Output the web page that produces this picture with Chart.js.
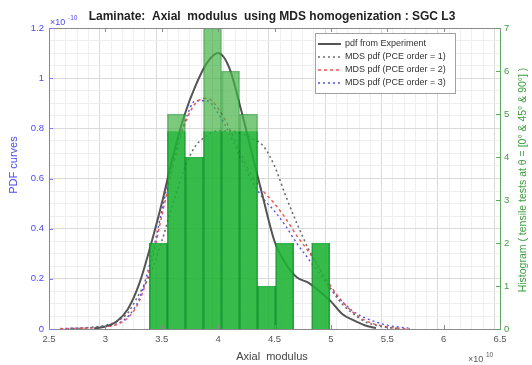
<!DOCTYPE html>
<html>
<head>
<meta charset="utf-8">
<script src="https://cdn.jsdelivr.net/npm/chart.js@4/dist/chart.umd.min.js"></script>
<style>
  html, body { margin: 0; padding: 0; background: #fff; overflow: hidden; }
  #wrap { width: 532px; height: 365px; position: relative; }
  canvas { filter: blur(0.5px); }
</style>
</head>
<body>
<div id="wrap"><canvas id="chart" width="532" height="365"></canvas></div>
<script>
// Laminate axial modulus: MDS pdf curves (left axis, x1e-10) vs tensile-test histogram (right axis)
const titleText = "Laminate:  Axial  modulus  using MDS homogenization : SGC L3";
const xTitle = "Axial  modulus";
const yTitle = "PDF curves";
const y2Title = "Histogram ( tensile tests at \u03b8 = [0\u00b0 & 45\u00b0 & 90\u00b0] )";
const legendLabels = [
  "pdf from Experiment",
  "MDS pdf (PCE order = 1)",
  "MDS pdf (PCE order = 2)",
  "MDS pdf (PCE order = 3)",
];

// curve abscissae (x 1e10)
const curveX = [2.6, 2.7, 2.8, 2.9, 3.0, 3.1, 3.2, 3.3, 3.4, 3.5, 3.6, 3.7, 3.8, 3.9, 4.0, 4.1,
  4.2, 4.3, 4.4, 4.5, 4.6, 4.7, 4.8, 4.9, 5.0, 5.1, 5.2, 5.3, 5.4, 5.5, 5.6, 5.7, 5.8];

const expPdf = [null, null, null, 0.002, 0.01, 0.03, 0.08, 0.18, 0.33, 0.50, 0.69, 0.85, 0.97, 1.06, 1.10, 1.04,
  0.88, 0.70, 0.52, 0.35, 0.26, 0.205, 0.185, 0.15, 0.11, 0.06, 0.035, 0.015, 0.004, null, null, null, null];
const pce1Pdf = [null, 0.002, 0.004, 0.008, 0.015, 0.03, 0.065, 0.14, 0.22, 0.35, 0.50, 0.64, 0.73, 0.77, 0.79, 0.79,
  0.78, 0.76, 0.73, 0.65, 0.53, 0.42, 0.32, 0.24, 0.16, 0.10, 0.06, 0.03, 0.015, 0.006, 0.002, null, null];
const pce2Pdf = [0.001, 0.002, 0.003, 0.005, 0.009, 0.018, 0.045, 0.11, 0.25, 0.45, 0.65, 0.81, 0.90, 0.92, 0.88, 0.80,
  0.70, 0.61, 0.55, 0.50, 0.44, 0.37, 0.31, 0.24, 0.17, 0.11, 0.065, 0.035, 0.018, 0.008, 0.003, 0.001, null];
const pce3Pdf = [0.002, 0.003, 0.004, 0.006, 0.01, 0.02, 0.05, 0.12, 0.27, 0.47, 0.67, 0.82, 0.91, 0.91, 0.86, 0.78,
  0.68, 0.59, 0.52, 0.47, 0.41, 0.34, 0.28, 0.22, 0.16, 0.11, 0.07, 0.045, 0.028, 0.015, 0.008, 0.003, null];

// histogram bins (centres, x 1e10) and counts
const binCenters = [3.47, 3.63, 3.79, 3.95, 4.11, 4.27, 4.43, 4.59, 4.75, 4.91];
const binCounts = [2, 5, 4, 7, 6, 5, 1, 2, 0, 2];
// darker lower band of the bars
const binDark = [2, 4.6, 4, 4.6, 4.6, 4.6, 1, 2, 0, 2];
const binWidth = 0.16;

const BLUE = "#4b4bf0";
const GREEN = "#3f9b3f";
const GRAY = "#5a5a5a";
const FONT = '"Liberation Sans", Arial, sans-serif';

const pts = (xs, ys) => xs.map((x, i) => ({ x, y: ys[i] }));
const isMult = (v, step) => Math.abs(v / step - Math.round(v / step)) < 1e-6;
// plot width is 451px for 4 units of x
const barPx = binWidth * 451 / 4;

const lineStyles = [
  { color: "#555555", width: 2, dash: [] },
  { color: "#6e6e6e", width: 1.6, dash: [2, 3] },
  { color: "#f05050", width: 1.4, dash: [3, 3] },
  { color: "#4f4ff0", width: 1.4, dash: [2, 3] },
];
const curves = [expPdf, pce1Pdf, pce2Pdf, pce3Pdf];

const datasets = [
  {
    type: "bar",
    label: "hist-dark",
    data: pts(binCenters, binDark),
    yAxisID: "y2",
    backgroundColor: "rgba(10,180,45,0.6)",
    borderColor: "rgba(20,120,40,0.55)",
    borderWidth: { left: 1, right: 1, top: 0, bottom: 0 },
    barThickness: barPx, grouped: false,
    order: 0,
  },
  {
    type: "bar",
    label: "hist",
    data: pts(binCenters, binCounts),
    yAxisID: "y2",
    backgroundColor: "rgba(70,178,70,0.7)",
    borderColor: "rgba(20,120,40,0.55)",
    borderWidth: 1,
    barThickness: barPx, grouped: false,
    order: 1,
  },
];
curves.forEach((c, i) => {
  const s = lineStyles[i];
  datasets.push({
    type: "line",
    label: legendLabels[i],
    data: pts(curveX, c),
    yAxisID: "y",
    borderColor: s.color,
    borderWidth: s.width,
    borderDash: s.dash,
    pointRadius: 0,
    fill: false,
    cubicInterpolationMode: "monotone",
    spanGaps: false,
    order: 2 + i,
  });
});

const gridColor = (step) => (ctx) => (ctx.tick && isMult(ctx.tick.value, step) ? "#dadada" : "#efefef");

const decor = {
  id: "decor",
  afterDraw(chart) {
    const { ctx } = chart;
    const { left, right, top, bottom } = chart.chartArea;
    const xs = chart.scales.x, ys = chart.scales.y, y2 = chart.scales.y2;
    ctx.save();

    // frame
    ctx.lineWidth = 1;
    ctx.strokeStyle = "#8a8a8a";
    ctx.beginPath();
    ctx.moveTo(left, top + 0.5); ctx.lineTo(right, top + 0.5);
    ctx.moveTo(left, bottom + 0.5); ctx.lineTo(right, bottom + 0.5);
    ctx.stroke();
    ctx.strokeStyle = "#7b7bf5";
    ctx.beginPath(); ctx.moveTo(left + 0.5, top); ctx.lineTo(left + 0.5, bottom + 1); ctx.stroke();
    ctx.strokeStyle = "#5aaa5a";
    ctx.beginPath(); ctx.moveTo(right + 0.5, top); ctx.lineTo(right + 0.5, bottom + 1); ctx.stroke();

    // inward tick marks
    ctx.strokeStyle = "#8a8a8a";
    ctx.beginPath();
    xs.ticks.forEach((t) => {
      if (!isMult(t.value, 0.5)) return;
      const px = Math.round(xs.getPixelForValue(t.value)) + 0.5;
      ctx.moveTo(px, bottom); ctx.lineTo(px, bottom - 4);
      ctx.moveTo(px, top); ctx.lineTo(px, top + 4);
    });
    ctx.stroke();
    ctx.strokeStyle = "#7b7bf5";
    ctx.beginPath();
    ys.ticks.forEach((t) => {
      if (!isMult(t.value, 0.2)) return;
      const py = Math.round(ys.getPixelForValue(t.value)) + 0.5;
      ctx.moveTo(left, py); ctx.lineTo(left + 4, py);
    });
    ctx.stroke();
    ctx.strokeStyle = "#5aaa5a";
    ctx.beginPath();
    y2.ticks.forEach((t) => {
      const py = Math.round(y2.getPixelForValue(t.value)) + 0.5;
      ctx.moveTo(right, py); ctx.lineTo(right - 4, py);
    });
    ctx.stroke();

    // title
    ctx.fillStyle = "#222";
    ctx.font = "bold 12px " + FONT;
    ctx.textAlign = "center";
    ctx.textBaseline = "middle";
    ctx.fillText(titleText, 272, 17);

    // exponents
    ctx.textAlign = "left";
    ctx.textBaseline = "alphabetic";
    ctx.fillStyle = BLUE;
    ctx.font = "9px " + FONT;
    ctx.fillText("\u00d710", 50, 25);
    ctx.font = "6.5px " + FONT;
    ctx.fillText("-10", 68, 20);
    ctx.fillStyle = GRAY;
    ctx.font = "9px " + FONT;
    ctx.fillText("\u00d710", 468, 362);
    ctx.font = "6.5px " + FONT;
    ctx.fillText("10", 486, 357);

    // axis titles
    ctx.textAlign = "center";
    ctx.textBaseline = "middle";
    ctx.fillStyle = "#444";
    ctx.font = "11px " + FONT;
    ctx.fillText(xTitle, 272, 357);
    ctx.save();
    ctx.translate(14, 165);
    ctx.rotate(-Math.PI / 2);
    ctx.fillStyle = BLUE;
    ctx.fillText(yTitle, 0, 0);
    ctx.restore();
    ctx.save();
    ctx.translate(523, 180);
    ctx.rotate(-Math.PI / 2);
    ctx.fillStyle = GREEN;
    ctx.font = "10.5px " + FONT;
    ctx.fillText(y2Title, 0, 0);
    ctx.restore();

    // legend box
    const bx = 315, by = 33, bw = 140, bh = 60;
    ctx.fillStyle = "#fff";
    ctx.fillRect(bx, by, bw, bh);
    ctx.strokeStyle = "#a0a0a0";
    ctx.lineWidth = 1;
    ctx.strokeRect(bx + 0.5, by + 0.5, bw, bh);
    ctx.font = "9px " + FONT;
    ctx.textAlign = "left";
    ctx.textBaseline = "middle";
    legendLabels.forEach((lab, i) => {
      const ly = 44 + i * 13;
      const s = lineStyles[i];
      ctx.strokeStyle = s.color;
      ctx.lineWidth = s.width;
      ctx.setLineDash(s.dash);
      ctx.beginPath(); ctx.moveTo(318, ly); ctx.lineTo(341, ly); ctx.stroke();
      ctx.setLineDash([]);
      ctx.fillStyle = "#333";
      ctx.fillText(lab, 345, ly);
    });
    ctx.restore();
  },
};

new Chart(document.getElementById("chart"), {
  type: "line",
  data: { datasets },
  plugins: [decor],
  options: {
    responsive: false,
    devicePixelRatio: 1,
    animation: false,
    layout: { padding: { top: 28, left: 0, right: 0, bottom: 0 } },
    plugins: { legend: { display: false }, tooltip: { enabled: false }, title: { display: false } },
    scales: {
      x: {
        type: "linear", min: 2.5, max: 6.5, offset: false,
        afterFit: (s) => { s.height = 36; },
        ticks: {
          stepSize: 0.1, autoSkip: false, maxRotation: 0, padding: 5,
          color: "#555", font: { size: 9.5, family: FONT },
          callback: (v) => (isMult(v, 0.5) ? String(Math.round(v * 10) / 10) : ""),
        },
        grid: { color: gridColor(0.5), drawTicks: false },
        border: { display: false },
      },
      y: {
        position: "left", min: 0, max: 1.2,
        afterFit: (s) => { s.width = 49; },
        ticks: {
          stepSize: 0.05, autoSkip: false, padding: 5,
          color: BLUE, font: { size: 9.5, family: FONT },
          callback: (v) => (isMult(v, 0.2) ? String(Math.round(v * 10) / 10) : ""),
        },
        grid: { color: gridColor(0.2), drawTicks: false },
        border: { display: false },
      },
      y2: {
        position: "right", min: 0, max: 7,
        afterFit: (s) => { s.width = 32; },
        ticks: { stepSize: 1, padding: 4, color: GREEN, font: { size: 9.5, family: FONT } },
        grid: { display: false, drawTicks: false },
        border: { display: false },
      },
    },
  },
});
</script>
</body>
</html>
